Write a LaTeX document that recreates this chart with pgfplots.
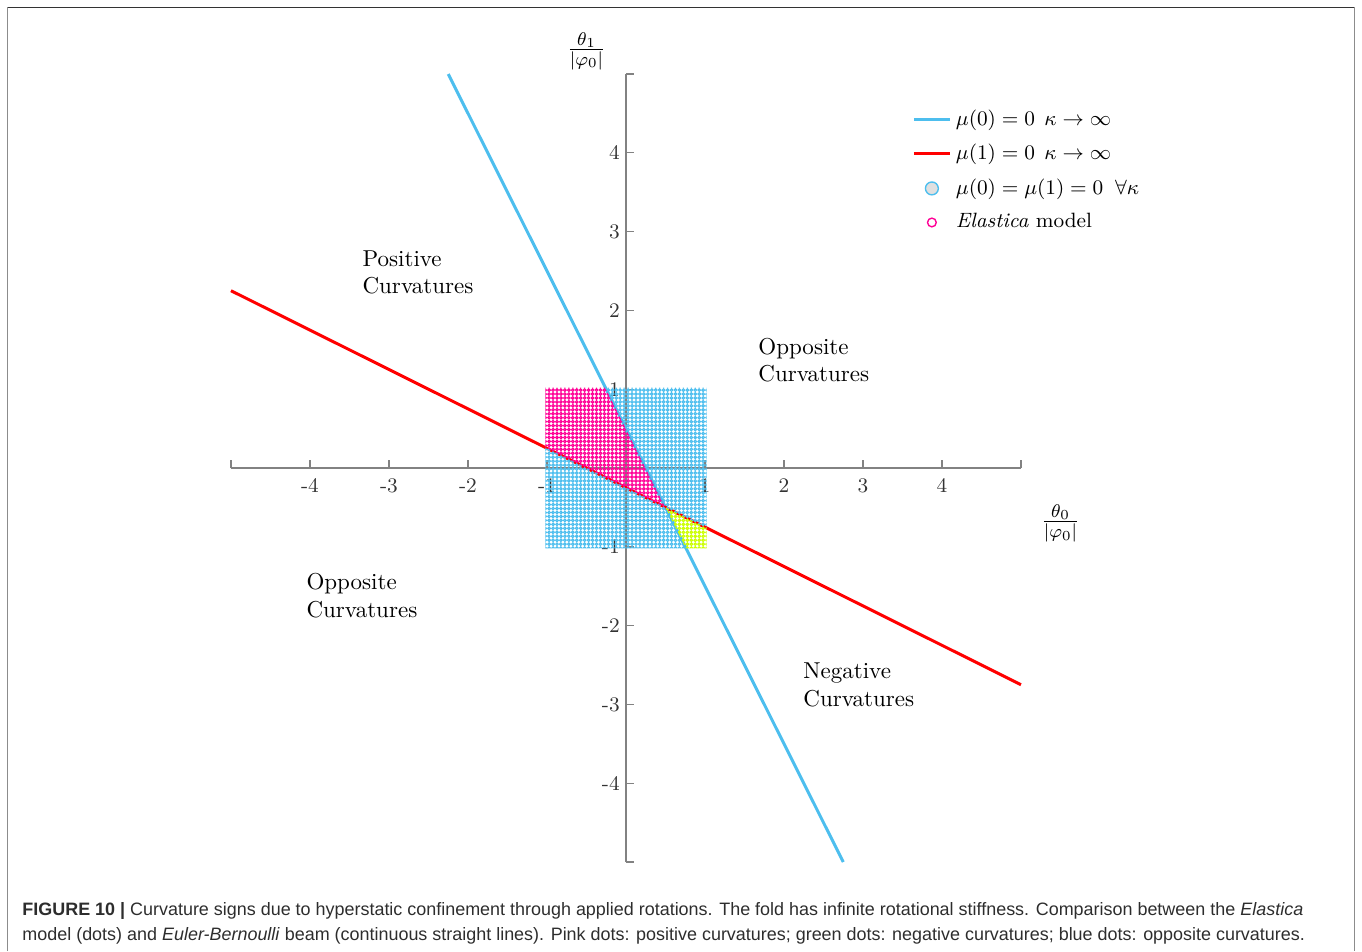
\documentclass[border=0pt]{standalone}
\usepackage{fontspec}
\usepackage{pgfplots}
\pgfplotsset{compat=1.18}
\usetikzlibrary{patterns}
\newfontfamily\capfont{Liberation Sans}

\definecolor{bluec}{RGB}{77,190,238}
\definecolor{redc}{RGB}{255,0,0}
\definecolor{pinkc}{RGB}{255,0,150}
\definecolor{greenc}{RGB}{204,255,0}
\definecolor{axisgray}{RGB}{130,130,130}
\definecolor{capgray}{RGB}{45,45,45}

\pgfdeclarepatternformonly{dotgrid}{\pgfpoint{-0.86pt}{-0.86pt}}{\pgfpoint{0.86pt}{0.86pt}}{\pgfpoint{1.717pt}{1.717pt}}{%
  \pgfsetlinewidth{0.5pt}%
  \pgfpathcircle{\pgfpointorigin}{0.56pt}%
  \pgfusepath{stroke}%
}

\pgfplotsset{
  lineleg/.style={legend image code/.code={\draw[##1, line width=1.3pt] (0pt,0pt) -- (15.6pt,0pt);}},
  markleg/.style={legend image code/.code={\draw[##1, mark repeat=2, mark phase=2] plot coordinates {(0pt,0pt) (7.8pt,0pt) (15.6pt,0pt)};}},
}

\begin{document}
\begin{tikzpicture}
\useasboundingbox (0,0) rectangle (592pt,413.36pt);
% frame
\draw[line width=0.7pt, black!45] (3.26pt,0pt) -- (3.26pt,410.1pt) -- (588.7pt,410.1pt) -- (588.7pt,0pt);
\draw[line width=0.6pt, black!80] (3.26pt,410.1pt) -- (588.7pt,410.1pt);

\begin{axis}[
  at={(100.40pt,38.68pt)}, anchor=south west,
  scale only axis, width=343.38pt, height=342.51pt,
  xmin=-5, xmax=5, ymin=-5, ymax=5,
  axis lines=middle,
  axis line style={-, axisgray, line width=0.6pt},
  tick style={axisgray, line width=0.6pt},
  tick align=inside,
  major tick length=3.5pt,
  xtick={-5,-4,-3,-2,-1,1,2,3,4,5},
  xticklabels={,-4,-3,-2,-1,1,2,3,4,},
  ytick={-5,-4,-3,-2,-1,1,2,3,4,5},
  yticklabels={,-4,-3,-2,-1,1,2,3,4,},
  ticklabel style={font=\small, text=black!80},
  xticklabel style={yshift=-1.2pt},
  yticklabel style={xshift=0.8pt},
  clip=false,
  legend style={draw=none, fill=none, at={(0.862,0.967)}, anchor=north west,
    font=\small, row sep=2.8pt, cells={anchor=west}, inner xsep=0pt},
]
\addplot[color=bluec, line width=1.3pt, lineleg]
  coordinates {(-2.25,5) (2.75,-5)};
\addlegendentry{{$\mu(0)=0\;\,\kappa\rightarrow\infty$}}
\addplot[color=redc, line width=1.3pt, lineleg]
  coordinates {(-5,2.25) (5,-2.75)};
\addlegendentry{{$\mu(1)=0\;\,\kappa\rightarrow\infty$}}

% dot regions (Elastica model grid)
\addplot[draw=none, pattern=dotgrid, pattern color=pinkc, forget plot]
  coordinates {(-1.02,1.02) (-0.26,1.02) (0.5,-0.5) (-1.02,0.26)} -- cycle;
\addplot[draw=none, pattern=dotgrid, pattern color=bluec, forget plot]
  coordinates {(-0.26,1.02) (1.02,1.02) (1.02,-0.76) (0.5,-0.5)} -- cycle;
\addplot[draw=none, pattern=dotgrid, pattern color=bluec, forget plot]
  coordinates {(-1.02,0.26) (0.5,-0.5) (0.76,-1.02) (-1.02,-1.02)} -- cycle;
\addplot[draw=none, pattern=dotgrid, pattern color=greenc, forget plot]
  coordinates {(0.5,-0.5) (1.02,-0.76) (1.02,-1.02) (0.76,-1.02)} -- cycle;

\addlegendimage{only marks, mark=*, mark size=2.8pt, mark options={draw=bluec, fill=black!12, line width=0.6pt}, markleg}
\addlegendentry{{$\mu(0)=\mu(1)=0\;\;\forall\kappa$}}
\addlegendimage{only marks, mark=o, mark size=1.9pt, mark options={draw=pinkc, line width=0.6pt}, markleg}
\addlegendentry{{\textit{Elastica} model}}

% axis labels
\node[font=\fontsize{11.5}{13}\selectfont] at (axis cs:-0.5,5.29) {$\frac{\theta_1}{|\varphi_0|}$};
\node[font=\fontsize{11.5}{13}\selectfont] at (axis cs:5.5,-0.70) {$\frac{\theta_0}{|\varphi_0|}$};

% region annotations
\node[anchor=west, align=left, inner sep=0pt] at (axis cs:-3.34,2.48) {Positive\\Curvatures};
\node[anchor=west, align=left, inner sep=0pt] at (axis cs:1.67,1.37) {Opposite\\Curvatures};
\node[anchor=west, align=left, inner sep=0pt] at (axis cs:-4.05,-1.62) {Opposite\\Curvatures};
\node[anchor=west, align=left, inner sep=0pt] at (axis cs:2.24,-2.75) {Negative\\Curvatures};
\end{axis}

% caption
\node[anchor=base west, inner sep=0pt, text=capgray, font=\capfont\fontsize{7.8}{9}\selectfont] at (9.56pt,15.65pt)
  {\textbf{FIGURE 10 |} Curvature signs due to hyperstatic confinement through applied rotations. The fold has infinite rotational stiffness. Comparison between the \textit{Elastica}};
\node[anchor=base west, inner sep=0pt, text=capgray, font=\capfont\fontsize{7.8}{9}\selectfont] at (9.56pt,4.78pt)
  {model (dots) and \textit{Euler-Bernoulli} beam (continuous straight lines). Pink dots: positive curvatures; green dots: negative curvatures; blue dots: opposite curvatures.};
\end{tikzpicture}
\end{document}
